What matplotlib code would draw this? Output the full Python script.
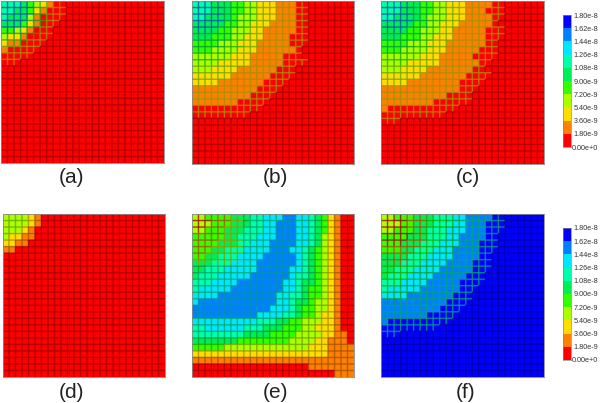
import numpy as np
import matplotlib
matplotlib.use("Agg")
import matplotlib.pyplot as plt
from matplotlib.colors import ListedColormap, BoundaryNorm, to_rgb
from matplotlib.collections import LineCollection

plt.rcParams['font.family'] = ['Liberation Sans', 'DejaVu Sans']

W, H = 600, 403
N = 25

# colour classes, lowest first
class_colors = ['#ff0000', '#ff8000', '#ffdd00', '#aaff00', '#33ff00',
                '#00ee55', '#00ffaa', '#00e6ff', '#0080ff', '#0000ff']
bar_labels = ['0.00e+0', '1.80e-9', '3.60e-9', '5.40e-9', '7.20e-9', '9.00e-9',
              '1.08e-8', '1.26e-8', '1.44e-8', '1.62e-8', '1.80e-8']

# each row lists colour classes, the rest of the row is filled with the last class
rows_a = ['666543210', '66554210', '6555310', '5554210', '443210',
          '32210', '21100', '10', '0']
rows_b = ['66655544332221110', '66655544332221110', '66555543332221110',
          '55555443322211110', '55554433322111110', '5554443322211110',
          '4444333222111110', '44433332221111110', '333333222111110',
          '333322222111110', '33322221111110', '2222221111110',
          '222211111110', '11111111110', '1111111110', '11111110', '0']
rows_c = ['666555443322211110', '66655544332221110', '665555433322211110',
          '555554433222111110', '55554433322111110', '55544433222111110',
          '44443332221111110', '4443333222111110', '333333222111110',
          '3333222221111110', '333222211111110', '22222211111110',
          '2222111111110', '1111111111110', '11111111110', '111111110', '10', '0']
rows_d = ['3333210', '3333210', '333210', '322110', '22110', '110', '0']
rows_e = ['3344445556677788776542100', '3334445556677888776542100', '3344455566677888776542100',
          '4444455666777888776532100', '4444555667778888776532100', '4445566677778887765432100',
          '4455666777788888765432100', '5556667777888888765432100', '5566677777888887765432100',
          '5666777778888887665432100', '6667777888888877655432100', '6777778888888877654432100',
          '7777888888888776654432100', '7888888888888776554332100',
          '8888888888887776544332100', '8888888888777766544322100',
          '7777777777666554433322100', '6677777766655544433222100',
          '6666666655554444333322110', '5555555444444443333221110',
          '4444433333333333332221111', '2222222222222222222221111',
          '1111111111111111111111111', '0000000000000000001111111', '0000000000000000000000111']
rows_f = ['334445556667788889', '33344555666778889', '33444556667778889',
          '44445556667788889', '4445556667778889', '4445566677788889',
          '5555666777788889', '555666777788889', '556667777888889',
          '56667777888889', '6667777888889', '6777778888889',
          '777788888889', '88888888889', '8888888889', '88888889', '89', '9']

# mesh lines take the class of the cell up and left of them, moved by these maps
map_up = [0, 2, 2, 3, 4, 5, 8, 9, 9, 9]
map_same = list(range(10))
map_e = [0, 1, 2, 3, 4, 5, 6, 6, 7, 9]
map_f = [0, 0, 0, 0, 1, 4, 5, 6, 6, 9]

panels = [
    ('(a)', rows_a, map_up, 2, 1, 164, 1, 163, 72, 178),
    ('(b)', rows_b, map_up, 2, 192, 354, 1, 164, 275, 178),
    ('(c)', rows_c, map_up, 2, 381, 544, 1, 164, 468, 178),
    ('(d)', rows_d, map_same, 0, 2.5, 165, 214, 377, 72, 392),
    ('(e)', rows_e, map_e, 0, 192, 354, 214, 377, 275, 392),
    ('(f)', rows_f, map_f, 2, 381, 544, 214, 377, 466, 392),
]

cmap = ListedColormap(class_colors)
norm = BoundaryNorm(np.arange(-0.5, 10.5), 10)


def to_grid(rows):
    grid = np.zeros((N, N), dtype=int)
    grid[:] = int(rows[-1][-1])
    for i, row in enumerate(rows):
        row = row.ljust(N, row[-1])
        grid[i] = [int(ch) for ch in row[:N]]
    return grid


def add_axes_px(fig, x0, x1, y0, y1):
    return fig.add_axes([x0 / W, 1 - y1 / H, (x1 - x0) / W, (y1 - y0) / H])


def draw_panel(ax, grid, level_map, shift, corner=0):
    ax.pcolormesh(np.arange(N + 1), np.arange(N + 1), grid, cmap=cmap, norm=norm)
    segs, cols = [], []
    for r in range(N):
        for c in range(N):
            lev = level_map[grid[max(r - shift, 0), max(c - shift, 0)]]
            if r < corner and c < corner:
                lev = max(lev - 3, 0)
            rgb = np.array(to_rgb(class_colors[lev])) * 0.65
            if r > 0:
                segs.append([(c, r), (c + 1, r)])
                cols.append(rgb)
            if c > 0:
                segs.append([(c, r), (c, r + 1)])
                cols.append(rgb)
    lines = LineCollection(segs, colors=cols, linewidths=1.0, alpha=0.8)
    lines.set_snap(False)
    ax.add_collection(lines)
    ax.set_xlim(0, N)
    ax.set_ylim(N, 0)
    ax.set_xticks([])
    ax.set_yticks([])
    for s in ax.spines.values():
        s.set_color('#888888')
        s.set_linewidth(0.6)


def draw_bar(ax):
    vals = np.arange(10).reshape(-1, 1)
    ax.pcolormesh([0, 1], np.arange(11), vals, cmap=cmap, norm=norm)
    ax.set_xticks([])
    ax.yaxis.tick_right()
    ax.set_yticks(np.arange(11))
    ax.set_yticklabels(bar_labels, ha='right', fontsize=5.2, color='#333333')
    ax.tick_params(axis='y', length=0, pad=19.4)
    for s in ax.spines.values():
        s.set_color('#888888')
        s.set_linewidth(0.5)


fig = plt.figure(figsize=(W / 100, H / 100), dpi=100)

for name, rows, level_map, shift, x0, x1, y0, y1, tx, ty in panels:
    ax = add_axes_px(fig, x0, x1, y0, y1)
    draw_panel(ax, to_grid(rows), level_map, shift, corner=8 if name == '(e)' else 0)
    fig.text(tx / W, 1 - ty / H, name, ha='center', va='center', fontsize=15, color='#222222')

draw_bar(add_axes_px(fig, 563, 571, 15, 147))
draw_bar(add_axes_px(fig, 563, 571, 228, 360))

fig.savefig('out.png', dpi=100)
